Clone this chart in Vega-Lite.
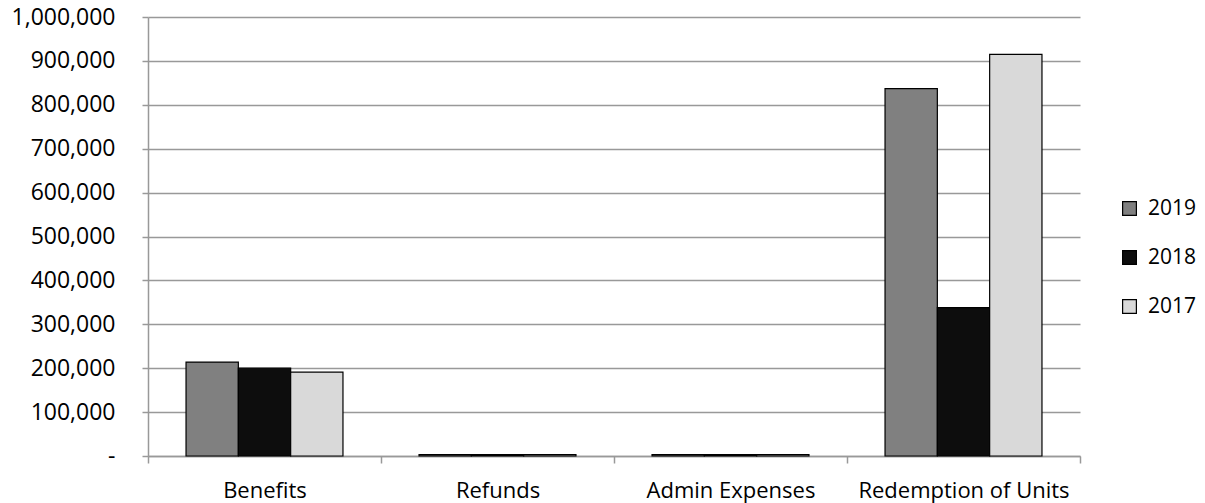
{
  "$schema": "https://vega.github.io/schema/vega-lite/v6.json",
  "width": 932,
  "height": 439,
  "autosize": {"type": "none"},
  "padding": {"left": 148, "top": 17, "right": 125, "bottom": 47},
  "background": "white",
  "config": {
    "view": {"stroke": null},
    "font": "Open Sans"
  },
  "data": {
    "values": [
      {"category": "Benefits", "year": "2019", "value": 214000},
      {"category": "Benefits", "year": "2018", "value": 200000},
      {"category": "Benefits", "year": "2017", "value": 191000},
      {"category": "Refunds", "year": "2019", "value": 3000},
      {"category": "Refunds", "year": "2018", "value": 3000},
      {"category": "Refunds", "year": "2017", "value": 3000},
      {"category": "Admin Expenses", "year": "2019", "value": 3000},
      {"category": "Admin Expenses", "year": "2018", "value": 3000},
      {"category": "Admin Expenses", "year": "2017", "value": 3000},
      {"category": "Redemption of Units", "year": "2019", "value": 837000},
      {"category": "Redemption of Units", "year": "2018", "value": 338000},
      {"category": "Redemption of Units", "year": "2017", "value": 915000}
    ]
  },
  "mark": {"type": "bar", "stroke": "#000000", "strokeWidth": 1.2},
  "encoding": {
    "x": {
      "field": "category",
      "type": "nominal",
      "sort": ["Benefits", "Refunds", "Admin Expenses", "Redemption of Units"],
      "scale": {"paddingInner": 0, "paddingOuter": 0},
      "axis": {
        "title": null,
        "labelAngle": 0,
        "labelFontSize": 22,
        "labelColor": "#000000",
        "labelPadding": 17,
        "labelLimit": 0,
        "labelOverlap": false,
        "tickBand": "extent",
        "tickSize": 7,
        "tickColor": "#999999",
        "tickWidth": 1.5,
        "domainColor": "#999999",
        "domainWidth": 1.5,
        "grid": false
      }
    },
    "xOffset": {
      "field": "year",
      "type": "nominal",
      "sort": ["2019", "2018", "2017"],
      "scale": {"paddingInner": 0, "paddingOuter": 0.727}
    },
    "y": {
      "field": "value",
      "type": "quantitative",
      "scale": {"domain": [0, 1000000], "nice": false},
      "axis": {
        "title": null,
        "values": [0, 100000, 200000, 300000, 400000, 500000, 600000, 700000, 800000, 900000, 1000000],
        "labelExpr": "datum.value == 0 ? '-' : format(datum.value, ',')",
        "labelOverlap": false,
        "labelFontSize": 23,
        "labelColor": "#000000",
        "labelPadding": 27,
        "tickSize": 6,
        "tickColor": "#999999",
        "tickWidth": 1.5,
        "gridColor": "#999999",
        "gridWidth": 1.5,
        "domainColor": "#999999",
        "domainWidth": 1.5,
        "encode": {
          "labels": {
            "update": {
              "dx": {"signal": "datum.value == 0 ? -12 : 0"}
            }
          }
        }
      }
    },
    "color": {
      "field": "year",
      "type": "nominal",
      "scale": {"domain": ["2019", "2018", "2017"], "range": ["#808080", "#0d0d0d", "#d9d9d9"]},
      "legend": {
        "title": null,
        "orient": "none",
        "legendX": 971,
        "legendY": 181,
        "symbolType": "square",
        "symbolSize": 190,
        "symbolStrokeColor": "#000000",
        "symbolStrokeWidth": 1.2,
        "labelFontSize": 21,
        "labelColor": "#000000",
        "rowPadding": 27,
        "labelOffset": 8
      }
    }
  }
}
